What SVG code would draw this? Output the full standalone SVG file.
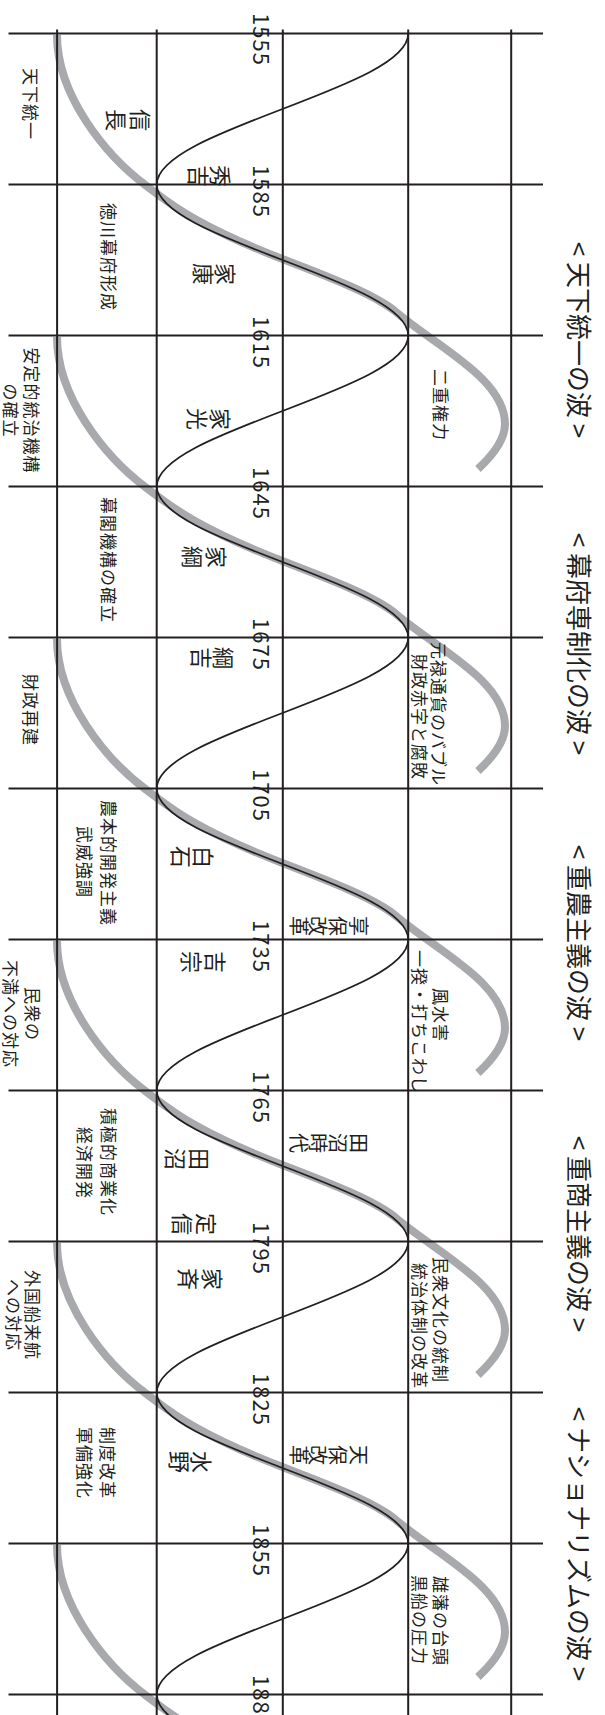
<svg xmlns="http://www.w3.org/2000/svg" width="605" height="1715" viewBox="0 0 605 1715">
<style>
.grid{stroke:#231f20;stroke-width:2;fill:none}
.wave{stroke:#231f20;stroke-width:1.8;fill:none}
.arc{stroke:#a7a9ac;stroke-width:8;fill:none}
text{font-family:"Noto Sans CJK JP","Noto Sans",sans-serif;fill:#231f20;text-anchor:middle}
.yr{font-family:"Liberation Sans",Arial,sans-serif;font-size:22px;letter-spacing:1px}
.ttl{font-size:26px}
.lbl{font-size:17px;letter-spacing:1px}
.nm{font-size:22px}
.era{font-size:20px}
</style>
<rect width="605" height="1715" fill="#fff"/>
<defs>
<path id="arc" class="arc" d="M57,35 C57,95 105,155 146.6,186 C170.7,204 194,225 285,260 C329.2,277 376,295 396,312 C437.3,347 505,379 505,424 C505,440 492,456 478,469"/>
</defs>
<g id="gray-waves">
<use href="#arc"/>
<use href="#arc" y="302"/>
<use href="#arc" y="604"/>
<use href="#arc" y="906"/>
<use href="#arc" y="1208"/>
<use href="#arc" y="1510"/>
</g>
<g id="grid" class="grid">
<path d="M8.5,33.5H543M8.5,184.5H543M8.5,335.5H543M8.5,486.5H543M8.5,637.5H543M8.5,788.5H543M8.5,939.5H543M8.5,1090.5H543M8.5,1241.5H543M8.5,1392.5H543M8.5,1543.5H543M8.5,1694.5H543"/>
<path d="M57.1,29.5V1715M156.7,29.5V1715M282.8,29.5V1715M408.2,29.5V1715M511.2,29.5V1715"/>
</g>
<g id="connectors">
<path class="wave" d="M408.25,33.5 c0,27.32 -61.33,50.88 -125.75,75.5 c-64.42,24.62 -125.75,48.18 -125.75,75.5 c0,27.32 61.33,50.88 125.75,75.5 c64.42,24.62 125.75,48.18 125.75,75.5 c0,27.32 -61.33,50.88 -125.75,75.5 c-64.42,24.62 -125.75,48.18 -125.75,75.5 c0,27.32 61.33,50.88 125.75,75.5 c64.42,24.62 125.75,48.18 125.75,75.5 c0,27.32 -61.33,50.88 -125.75,75.5 c-64.42,24.62 -125.75,48.18 -125.75,75.5 c0,27.32 61.33,50.88 125.75,75.5 c64.42,24.62 125.75,48.18 125.75,75.5 c0,27.32 -61.33,50.88 -125.75,75.5 c-64.42,24.62 -125.75,48.18 -125.75,75.5 c0,27.32 61.33,50.88 125.75,75.5 c64.42,24.62 125.75,48.18 125.75,75.5 c0,27.32 -61.33,50.88 -125.75,75.5 c-64.42,24.62 -125.75,48.18 -125.75,75.5 c0,27.32 61.33,50.88 125.75,75.5 c64.42,24.62 125.75,48.18 125.75,75.5 c0,27.32 -61.33,50.88 -125.75,75.5 c-64.42,24.62 -125.75,48.18 -125.75,75.5 c0,27.32 61.33,50.88 125.75,75.5 c64.42,24.62 125.75,48.18 125.75,75.5"/>
</g>
<g id="labels" transform="translate(605,0) rotate(90)">
<g id="titles" class="ttl">
<text id="t1" x="340" y="36.4">&lt; 天下統一の波 &gt;</text>
<text id="t2" x="644" y="36.4">&lt; 幕府専制化の波 &gt;</text>
<text id="t3" x="943" y="36.4">&lt; 重農主義の波 &gt;</text>
<text id="t4" x="1234" y="36.4">&lt; 重商主義の波 &gt;</text>
<text id="t5" x="1544" y="36.4">&lt; ナショナリズムの波 &gt;</text>
</g>
<g id="years" class="yr">
<text x="39.5" y="352.3">1555</text>
<text x="191.5" y="352.3">1585</text>
<text x="342.5" y="352.3">1615</text>
<text x="493.5" y="352.3">1645</text>
<text x="644.5" y="352.3">1675</text>
<text x="795.5" y="352.3">1705</text>
<text x="946.5" y="352.3">1735</text>
<text x="1097.5" y="352.3">1765</text>
<text x="1248.5" y="352.3">1795</text>
<text x="1399.5" y="352.3">1825</text>
<text x="1550.5" y="352.3">1855</text>
<text x="1701.5" y="352.3">1885</text>
</g>
<g id="bottom-labels" class="lbl">
<text id="b1" x="104" y="580.7">天下統一</text>
<text id="b2" x="257" y="503.5">徳川幕府形成</text>
<g id="b3"><text x="410.5" y="580">安定的統治機構</text><text x="410.5" y="601">の確立</text></g>
<text id="b4" x="560" y="503.5">幕閣機構の確立</text>
<text id="b5" x="710" y="580.7">財政再建</text>
<g id="b6"><text x="863" y="503.5">農本的開発主義</text><text x="862" y="526.6">武威強調</text></g>
<g id="b7"><text x="1014" y="579.5">民衆の</text><text x="1014" y="601">不満への対応</text></g>
<g id="b8"><text x="1162" y="503.5">積極的商業化</text><text x="1163" y="526.6">経済開発</text></g>
<g id="b9"><text x="1315" y="578.9">外国船来航</text><text x="1315" y="598">への対応</text></g>
<g id="b10"><text x="1463" y="504.5">制度改革</text><text x="1463" y="527.5">軍備強化</text></g>
</g>
<g id="right-labels" class="lbl">
<text id="r1" x="405" y="171.5">二重権力</text>
<g id="r2"><text x="714" y="173.5">元禄通貨のバブル</text><text x="717" y="192">財政赤字と腐敗</text></g>
<g id="r3"><text x="1015" y="171.5">風水害</text><text x="1022" y="192">一揆・打ちこわし</text></g>
<g id="r4"><text x="1320" y="171.5">民衆文化の統制</text><text x="1326" y="192">統治体制の改革</text></g>
<g id="r5"><text x="1621" y="171.5">雄藩の台頭</text><text x="1620" y="192">黒船の圧力</text></g>
</g>
<g id="names" class="nm">
<g id="n1"><text x="120" y="472.6">信</text><text x="120" y="496.9">長</text></g>
<g id="n2"><text x="176" y="392.7">秀</text><text x="176" y="414.9">吉</text></g>
<g id="n3"><text x="274" y="388">家</text><text x="274" y="410">康</text></g>
<g id="n4"><text x="419" y="393">家</text><text x="419" y="416">光</text></g>
<g id="n5"><text x="557" y="397">家</text><text x="557" y="421">綱</text></g>
<g id="n6"><text x="658" y="390">綱</text><text x="658" y="412">吉</text></g>
<g id="n7"><text x="857" y="410">白</text><text x="857" y="432">石</text></g>
<g id="n8"><text x="962" y="398">吉</text><text x="962" y="422">宗</text></g>
<g id="n9"><text x="1159" y="414">田</text><text x="1159" y="438">沼</text></g>
<g id="n10"><text x="1224" y="407">定</text><text x="1224" y="431">信</text></g>
<g id="n11"><text x="1279" y="401">家</text><text x="1279" y="425">斉</text></g>
<g id="n12"><text x="1462" y="412">水</text><text x="1462" y="434">野</text></g>
</g>
<g id="eras" class="era">
<g id="e1"><text x="926" y="253.6">享</text><text x="926" y="275">保</text><text x="926" y="294.6">改</text><text x="926" y="313.6">革</text></g>
<g id="e2"><text x="1143" y="253.6">田</text><text x="1143" y="275">沼</text><text x="1143" y="294.6">時</text><text x="1143" y="313.6">代</text></g>
<g id="e3"><text x="1455" y="253.6">天</text><text x="1455" y="275">保</text><text x="1455" y="294.6">改</text><text x="1455" y="313.6">革</text></g>
</g>
</g>
</svg>
